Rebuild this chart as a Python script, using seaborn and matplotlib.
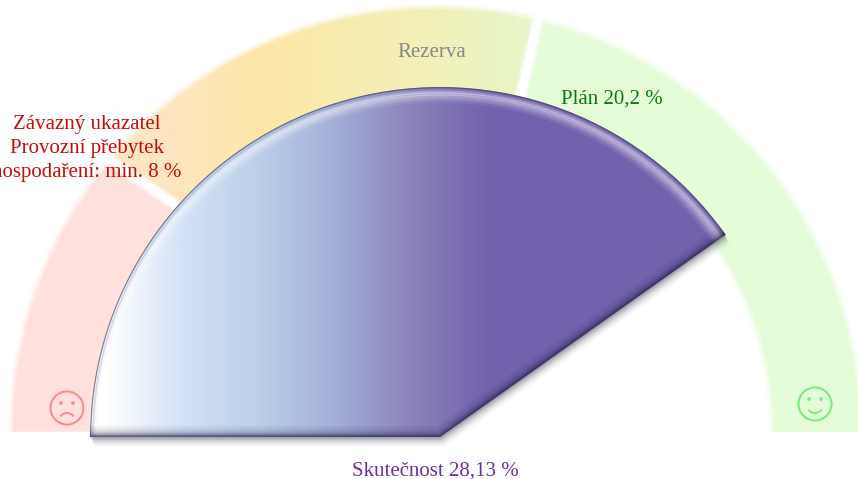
import numpy as np
import seaborn as sns
from matplotlib import pyplot as plt
from matplotlib.patches import Arc, Circle, Wedge

# gauge values, in percent
scale_max = 35
minimum = 8
plan = 20.2
actual = 28.13

labels_min = ['Závazný ukazatel', 'Provozní přebytek', 'hospodaření: min. 8 %']
label_reserve = 'Rezerva'
label_plan = 'Plán 20,2 %'
label_actual = 'Skutečnost 28,13 %'

red_colors = ['#ffe1dd', '#ffe1dd']
yellow_colors = ['#fde6c2', '#fde7a9', '#f8ecb0', '#f1f1ba', '#e7f6ca']
green_colors = ['#e5fcd9', '#e5fcd9']
purple_colors = ['#ffffff', '#d3e2f6', '#bccfe9', '#a3aed7', '#8a82ba', '#7361ad']

H = 479


def angle(v):
    return 180 * (1 - v / scale_max)


def yy(y):
    # picture rows run downwards, the axes upwards
    return H - y


def gradient(ax, wedge, colors, x0, x1, alpha=1.0):
    cmap = sns.blend_palette(colors, n_colors=256, as_cmap=True)
    xs = np.arange(0, 859).reshape(1, -1)
    im = ax.imshow(xs, cmap=cmap, vmin=x0, vmax=x1, extent=(0, 858, 0, H), aspect='auto',
                   interpolation='bilinear', alpha=alpha, zorder=wedge.get_zorder())
    wedge.set_transform(ax.transData)
    im.set_clip_path(wedge)


def band(ax, lo, hi, colors, x0, x1):
    cx, cy, r_out, r_in = 436, yy(432), 424, 337
    # soft rim first, then the solid band
    for grow, alpha in [(5, 0.12), (3, 0.25), (1, 0.45), (-1, 1.0)]:
        w = Wedge((cx, cy), r_out + grow, angle(hi), angle(lo), width=r_out - r_in + 2 * grow, zorder=1)
        gradient(ax, w, colors, x0, x1, alpha)


def gap(ax, x0, y0, x1, y1):
    for lw, a in [(14, 0.25), (11, 0.45), (8, 1.0)]:
        ax.plot([x0, x1], [yy(y0), yy(y1)], color='white', lw=lw * 0.72, alpha=a,
                solid_capstyle='butt', zorder=2)


sns.set_theme(style='white')
plt.rcParams['font.family'] = ['Liberation Serif', 'DejaVu Serif']

fig = plt.figure(figsize=(8.58, 4.79), dpi=100)
ax = fig.add_axes([0, 0, 1, 1])

band(ax, 0, minimum - 0.15, red_colors, 0, 858)
band(ax, minimum - 0.15, plan, yellow_colors, 165, 535)
band(ax, plan, scale_max, green_colors, 0, 858)

# white gaps between the bands
gap(ax, 95, 150, 195, 218)
gap(ax, 541, 5, 520, 100)

# soft lower end of the bands
for top, a in [(434, 1.0), (432.5, 0.5), (431, 0.25)]:
    ax.fill_between([0, 858], 0, yy(top), color='white', alpha=a, lw=0, zorder=2)

cx, cy, R = 440, yy(437), 350
t_end = angle(actual)

# soft shadow below right of the sector
for k, a in [(14, 0.025), (12, 0.035), (10, 0.05), (8, 0.07), (6, 0.09), (4, 0.12), (2, 0.16)]:
    ax.add_patch(Wedge((cx + k * 0.3, cy - k * 0.7), R, t_end, 180, fc='#30304a', ec='none',
                       alpha=a, zorder=3))

sector = Wedge((cx, cy), R, t_end, 180, fc='none', ec='none', zorder=4)
ax.add_patch(sector)
gradient(ax, sector, purple_colors, 105, 490)

# bevel: light rim along the arc, dark along the straight edges
arc_t = np.radians(np.linspace(t_end, 180, 200))
for r, lw, col, a in [(R - 13, 5.0, '#ffffff', 0.08), (R - 11, 4.0, '#ffffff', 0.14), (R - 9, 3.5, '#ffffff', 0.22),
                      (R - 7, 3.5, '#ffffff', 0.34), (R - 5, 3.0, '#f0f0ff', 0.34), (R - 3, 2.0, '#9a9ab8', 0.35),
                      (R - 0.5, 1.6, '#4a4a64', 0.7)]:
    line, = ax.plot(cx + r * np.cos(arc_t), cy + r * np.sin(arc_t), color=col, lw=lw * 0.72, alpha=a, zorder=5)
    line.set_clip_path(sector)

t = np.radians(t_end)
edge_x = [cx - R, cx, cx + R * np.cos(t)]
edge_y = [cy, cy, cy + R * np.sin(t)]
for lw, a in [(16, 0.06), (12, 0.08), (8, 0.14), (5, 0.25), (2.5, 0.45)]:
    line, = ax.plot(edge_x, edge_y, color='#26234a', lw=lw, alpha=a, zorder=5, solid_joinstyle='miter')
    line.set_clip_path(sector)

for i, txt in enumerate(labels_min):
    ax.text(87, yy(124 + 24 * i), txt, color='#cc0a0a', fontsize=15, ha='center', va='center', zorder=6)
ax.text(432, yy(52), label_reserve, color='#888888', fontsize=15, ha='center', va='center', zorder=6)
ax.text(612, yy(99), label_plan, color='#0b7a10', fontsize=15, ha='center', va='center', zorder=6)
ax.text(435, yy(471), label_actual, color='#6a30a8', fontsize=15, ha='center', va='center', zorder=6)

# faces at both ends of the scale
for fx, fy, col, mouth_y, t1, t2 in [(67, 408, '#ff8a8a', 421, 35, 145), (815, 404, '#78ee78', 405, 215, 325)]:
    ax.add_patch(Circle((fx, yy(fy)), 16.5, fc='none', ec=col, lw=1.5, zorder=6))
    ax.add_patch(Circle((fx - 6, yy(fy - 5)), 1.9, fc=col, ec='none', zorder=6))
    ax.add_patch(Circle((fx + 6, yy(fy - 5)), 1.9, fc=col, ec='none', zorder=6))
    ax.add_patch(Arc((fx, yy(mouth_y)), 16, 16, theta1=t1, theta2=t2, ec=col, lw=1.5, zorder=6))

ax.set_xlim(0, 858)
ax.set_ylim(0, H)
ax.set_xticks([])
ax.set_yticks([])
sns.despine(ax=ax, left=True, bottom=True)

fig.savefig('out.png', dpi=100)
